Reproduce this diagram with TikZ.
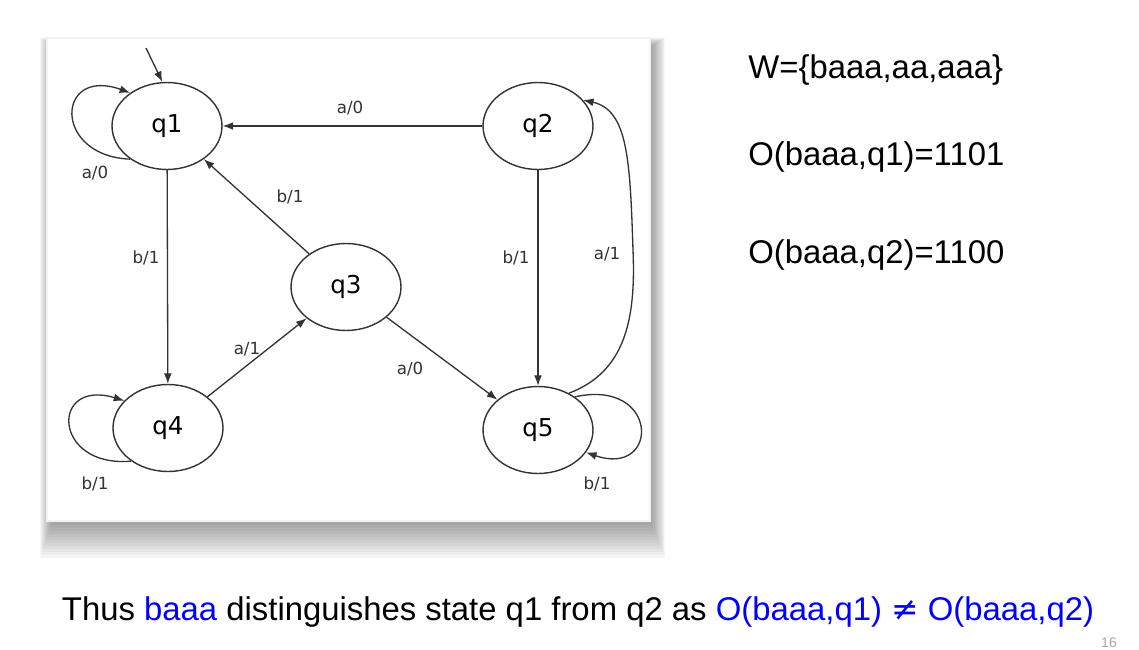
\documentclass[tikz,border=0pt]{standalone}
\usepackage{fontspec}
\setmainfont{Liberation Sans}
\newfontfamily\diafont{DejaVu Sans}
\usetikzlibrary{shapes.geometric,arrows.meta}

\tikzset{
  stnode/.style={ellipse,draw=black!80,line width=0.8pt,minimum width=2.2cm,minimum height=1.74cm,inner sep=0pt,font=\diafont\fontsize{14}{16}\selectfont},
  tr/.style={draw=black!80,line width=0.75pt,-{Latex[length=6pt,width=4.5pt]}},
  lbl/.style={font=\diafont\fontsize{9.5}{11}\selectfont,text=black!80,inner sep=0pt},
  big/.style={font=\fontsize{18.7}{22}\selectfont,anchor=west,inner sep=0pt}
}

\begin{document}
\begin{tikzpicture}[x=0.02cm,y=-0.02cm]
\useasboundingbox (0,0) rectangle (1139,649);

% Panel shadow
\foreach \k in {1,...,12}
  \fill[black,opacity=0.035] (52-\k*1,46-\k*0.7) rectangle (651+\k*1.2,522+\k*3);
\fill[white,draw=black!5,line width=1pt] (47,38) rectangle (650,521);

% States
\node[stnode] (q1) at (167,126) {q1};
\node[stnode] (q2) at (538,126) {q2};
\node[stnode] (q3) at (346,287) {q3};
\node[stnode] (q4) at (168,428) {q4};
\node[stnode] (q5) at (538,430) {q5};

% Initial arrow
\coordinate (init) at (146,48);
\draw[tr] (init) -- (q1.96);

% Transitions
\draw[tr] (q2) -- (q1);
\draw[tr] (q3) -- (q1);
\draw[tr] (q1) -- (q4);
\draw[tr] (q4) -- (q3);
\draw[tr] (q3) -- (q5);
\draw[tr] (q2) -- (q5);
\draw[tr] (q5.50) .. controls (625,372) and (636,320) .. (633,250)
  .. controls (630,160) and (628,110) .. (q2.30);

% Self loops
\draw[tr] (q1.222) .. controls (52,156) and (56,66) .. (q1.138);
\draw[tr] (q4.222) .. controls (52,468) and (50,378) .. (q4.148);
\draw[tr] (q5.42) .. controls (660,378) and (660,478) .. (q5.-25);

% Labels
\node[lbl] (l21) at (350,108) {a/0};
\node[lbl] (l31) at (290,197) {b/1};
\node[lbl] (l11) at (95,173) {a/0};
\node[lbl] (l14) at (146,258) {b/1};
\node[lbl] (l25) at (516,258) {b/1};
\node[lbl] (l52) at (607,254) {a/1};
\node[lbl] (l43) at (247,349) {a/1};
\node[lbl] (l35) at (410,369) {a/0};
\node[lbl] (l44) at (95,484) {b/1};
\node[lbl] (l55) at (597,484) {b/1};

% Text on the right
\node[big] (w) at (748,70) {W=\{baaa,aa,aaa\}};
\node[big] (o1) at (748,157) {O(baaa,q1)=1101};
\node[big] (o2) at (748,255) {O(baaa,q2)=1100};

% Bottom line
\node[big,anchor=center] (concl) at (578,612) {Thus \textcolor{blue}{baaa} distinguishes state q1 from q2 as \textcolor{blue}{O(baaa,q1) {\diafont≠} O(baaa,q2)}};
\node[font=\fontsize{8}{9}\selectfont,text=black!35,inner sep=0pt] (pg) at (1109,643) {16};
\end{tikzpicture}
\end{document}
